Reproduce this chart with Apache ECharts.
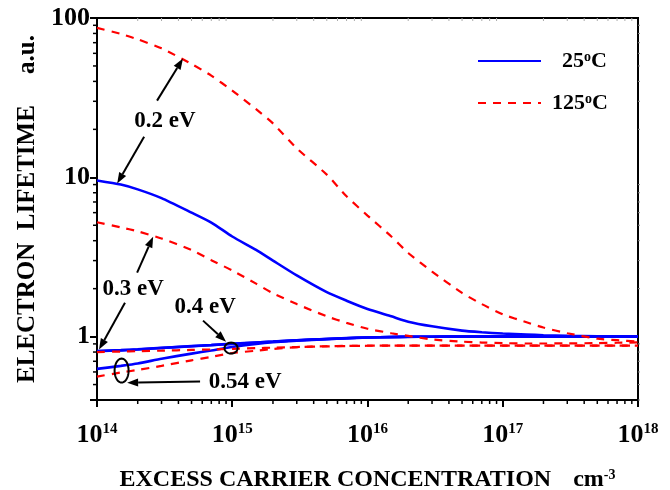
<!DOCTYPE html>
<html>
<head>
<meta charset="utf-8">
<script src="https://cdn.jsdelivr.net/npm/echarts@6/dist/echarts.min.js"></script>
<style>html,body{margin:0;padding:0;background:#fff;}#c{width:670px;height:490px;}</style>
</head>
<body>
<div id="c"></div>
<script>
// ---- data ----
const conc = [1e14, 1.5e14, 2e14, 3e14, 5e14, 7e14, 1e15, 1.5e15, 2e15, 3e15, 5e15, 7e15,
  1e16, 1.5e16, 2e16, 3e16, 5e16, 7e16, 1e17, 1.5e17, 2e17, 3e17, 5e17, 7e17, 1e18];

// 25 C (solid blue)
const blue02  = [9.55, 9.0, 8.4, 7.4, 6.0, 5.2, 4.25, 3.5, 3.0, 2.42, 1.9, 1.68, 1.49, 1.34, 1.24, 1.16, 1.09, 1.065, 1.045, 1.03, 1.02, 1.01, 1.005, 1.0, 1.0];
const blue03  = [0.81, 0.82, 0.83, 0.848, 0.87, 0.884, 0.9, 0.918, 0.93, 0.948, 0.966, 0.977, 0.988, 0.994, 0.997, 0.999, 1.0, 1.0, 1.0, 1.0, 1.0, 1.0, 1.0, 1.0, 1.0];
const blue04  = [0.813, 0.823, 0.833, 0.85, 0.872, 0.886, 0.902, 0.919, 0.931, 0.949, 0.967, 0.978, 0.988, 0.994, 0.997, 0.999, 1.0, 1.0, 1.0, 1.0, 1.0, 1.0, 1.0, 1.0, 1.0];
const blue054 = [0.627, 0.655, 0.678, 0.726, 0.782, 0.819, 0.861, 0.9, 0.922, 0.944, 0.964, 0.976, 0.987, 0.993, 0.996, 0.998, 1.0, 1.0, 1.0, 1.0, 1.0, 1.0, 1.0, 1.0, 1.0];

// 125 C (dashed red)
const red02  = [86.7, 79.5, 73.5, 64.5, 51.5, 43.5, 35, 26.8, 21.8, 15.2, 10.4, 7.6, 5.75, 4.25, 3.35, 2.56, 1.88, 1.6, 1.38, 1.23, 1.14, 1.05, 0.97, 0.95, 0.93];
const red03  = [5.22, 4.85, 4.58, 4.13, 3.5, 3.02, 2.6, 2.15, 1.87, 1.6, 1.34, 1.22, 1.12, 1.05, 1.01, 0.96, 0.93, 0.918, 0.91, 0.905, 0.905, 0.907, 0.91, 0.915, 0.92];
const red04  = [0.80, 0.806, 0.81, 0.816, 0.825, 0.83, 0.837, 0.846, 0.852, 0.86, 0.868, 0.873, 0.877, 0.878, 0.878, 0.878, 0.878, 0.878, 0.878, 0.878, 0.878, 0.878, 0.878, 0.878, 0.878];
const red054 = [0.561, 0.595, 0.618, 0.655, 0.71, 0.746, 0.789, 0.815, 0.836, 0.858, 0.87, 0.874, 0.876, 0.877, 0.878, 0.878, 0.878, 0.878, 0.878, 0.878, 0.878, 0.878, 0.878, 0.878, 0.878];

const xMin = 1e14, xMax = 1e18, yMin = 0.4, yMax = 100;
const legendNames = ['25°C', '125°C'];

// annotations in data coordinates
const annoLabels = [[3.18e14, 22.7, '0.2 eV'], [1.85e14, 2.0, '0.3 eV'], [6.3e14, 1.54, '0.4 eV'], [1.245e15, 0.522, '0.54 eV']];
const annoArrows = [
  [2.78e14, 30.3, 4.32e14, 55.6],
  [2.23e14, 18.0, 1.41e14, 9.13],
  [1.98e14, 2.52, 2.6e14, 4.24],
  [1.61e14, 1.63, 1.035e14, 0.829],
  [6.08e14, 1.26, 9.0e14, 0.93],
  [5.78e14, 0.522, 1.67e14, 0.514]
];
const annoRings = [[9.8e14, 0.847], [1.52e14, 0.612]];
const ringSize = [[6.5, 5.5], [7, 12]];

// ---- minor tick values ----
const minorX = [], minorY = [];
for (let e = 14; e < 18; e++) for (let m = 2; m <= 9; m++) minorX.push(m * Math.pow(10, e));
for (let e = -1; e < 2; e++) for (let m = 1; m <= 9; m++) {
  const v = m * Math.pow(10, e);
  if (m > 1 && v >= yMin - 1e-9 && v < yMax) minorY.push(+v.toPrecision(3));
}

const FF = 'Liberation Serif';
const chart = echarts.init(document.getElementById('c'), null, {renderer: 'canvas'});

function mk(name, vals, isRed) {
  return {
    name: name, type: 'line', symbol: 'none', showSymbol: false, smooth: 0.2,
    data: conc.map((c, i) => [c, vals[i]]),
    lineStyle: isRed ? {color: '#ff0000', width: 2.2, type: [8, 7]} : {color: '#0000ff', width: 2.6},
    itemStyle: {color: isRed ? '#ff0000' : '#0000ff'},
    z: isRed ? 3 : 2, silent: true
  };
}

const series = [
  mk(legendNames[0], blue02, false), mk(legendNames[0], blue03, false),
  mk(legendNames[0], blue04, false), mk(legendNames[0], blue054, false),
  mk(legendNames[1], red02, true), mk(legendNames[1], red03, true),
  mk(legendNames[1], red04, true), mk(legendNames[1], red054, true),
  {
    type: 'custom', name: 'minorX', silent: true, clip: false, z: 5,
    data: minorX.map(v => [v, yMin]),
    renderItem: (p, api) => {
      const b = api.coord([api.value(0), yMin]);
      const t = api.coord([api.value(0), yMax]);
      return {type: 'group', children: [
        {type: 'line', shape: {x1: b[0], y1: b[1], x2: b[0], y2: b[1] + 4}, style: {stroke: '#000', lineWidth: 1.5}},
        {type: 'line', shape: {x1: t[0], y1: t[1], x2: t[0], y2: t[1] + 3}, style: {stroke: '#aaa', lineWidth: 1}}
      ]};
    }
  },
  {
    type: 'custom', name: 'minorY', silent: true, clip: false, z: 5,
    data: minorY.map(v => [xMin, v]),
    renderItem: (p, api) => {
      const l = api.coord([xMin, api.value(1)]);
      const r = api.coord([xMax, api.value(1)]);
      return {type: 'group', children: [
        {type: 'line', shape: {x1: l[0], y1: l[1], x2: l[0] - 4, y2: l[1]}, style: {stroke: '#000', lineWidth: 1.5}},
        {type: 'line', shape: {x1: r[0], y1: r[1], x2: r[0] + 2, y2: r[1]}, style: {stroke: '#888', lineWidth: 1}}
      ]};
    }
  },
  {
    type: 'custom', name: 'arrows', silent: true, clip: false, z: 10,
    data: annoArrows,
    renderItem: (p, api) => {
      const p1 = api.coord([api.value(0), api.value(1)]);
      const p2 = api.coord([api.value(2), api.value(3)]);
      const a = Math.atan2(p2[1] - p1[1], p2[0] - p1[0]);
      const L = 11, W = 4;
      const base = [p2[0] - L * Math.cos(a), p2[1] - L * Math.sin(a)];
      const lft = [base[0] + W * Math.sin(a), base[1] - W * Math.cos(a)];
      const rgt = [base[0] - W * Math.sin(a), base[1] + W * Math.cos(a)];
      return {type: 'group', children: [
        {type: 'line', shape: {x1: p1[0], y1: p1[1], x2: base[0], y2: base[1]}, style: {stroke: '#000', lineWidth: 2}},
        {type: 'polygon', shape: {points: [p2, lft, rgt]}, style: {fill: '#000'}}
      ]};
    }
  },
  {
    type: 'custom', name: 'rings', silent: true, clip: false, z: 10,
    data: annoRings,
    renderItem: (p, api) => {
      const c = api.coord([api.value(0), api.value(1)]);
      const s = ringSize[p.dataIndex];
      const pts = [];
      for (let k = 0; k < 48; k++) {
        const t = k / 48 * Math.PI * 2;
        pts.push([c[0] + s[0] * Math.cos(t), c[1] + s[1] * Math.sin(t)]);
      }
      return {type: 'polygon', shape: {points: pts}, style: {fill: 'none', stroke: '#000', lineWidth: 2}};
    }
  },
  {
    type: 'custom', name: 'labels', silent: true, clip: false, z: 10,
    data: annoLabels.map(d => [d[0], d[1]]),
    renderItem: (p, api) => {
      const c = api.coord([api.value(0), api.value(1)]);
      return {type: 'text', x: c[0], y: c[1], style: {
        text: annoLabels[p.dataIndex][2], fill: '#000', fontFamily: FF, fontWeight: 'bold', fontSize: 23,
        align: 'center', verticalAlign: 'middle'}};
    }
  }
];

const option = {
  animation: false,
  backgroundColor: '#fff',
  grid: {left: 97, right: 32, top: 18, bottom: 90, show: true, borderColor: '#000', borderWidth: 2,
    backgroundColor: 'transparent', containLabel: false, outerBoundsMode: 'none'},
  legend: {
    data: legendNames, orient: 'vertical', left: 472, top: 45, itemWidth: 63, itemHeight: 14, itemGap: 20,
    selectedMode: false,
    itemStyle: {opacity: 0},
    formatter: n => n === legendNames[0] ? '{p|}25{s|o}C' : '125{s|o}C',
    textStyle: {
      fontFamily: FF, fontWeight: 'bold', fontSize: 22, color: '#000', padding: [0, 0, 0, 6],
      rich: {
        s: {fontFamily: FF, fontWeight: 'bold', fontSize: 14, verticalAlign: 'top', color: '#000'},
        p: {width: 10}
      }
    }
  },
  xAxis: {
    type: 'log', logBase: 10, min: xMin, max: xMax,
    name: '{t|EXCESS CARRIER CONCENTRATION}{g|}{t|cm}{s|-3}', nameLocation: 'middle', nameGap: 68,
    nameTextStyle: {
      color: '#000',
      rich: {
        t: {fontFamily: FF, fontWeight: 'bold', fontSize: 24, color: '#000'},
        s: {fontFamily: FF, fontWeight: 'bold', fontSize: 14, color: '#000', verticalAlign: 'top'},
        g: {width: 22}
      }
    },
    axisLine: {show: true, lineStyle: {color: '#000', width: 2}},
    axisTick: {show: true, inside: false, length: 7, lineStyle: {color: '#000', width: 2}},
    splitLine: {show: false}, minorTick: {show: false},
    axisLabel: {
      margin: 22, color: '#000',
      formatter: v => '{b|10}{s|' + Math.round(Math.log10(v)) + '}',
      rich: {
        b: {fontFamily: FF, fontWeight: 'bold', fontSize: 26, color: '#000'},
        s: {fontFamily: FF, fontWeight: 'bold', fontSize: 15, color: '#000', verticalAlign: 'top'}
      }
    }
  },
  yAxis: {
    type: 'log', logBase: 10, min: yMin, max: yMax,
    name: 'ELECTRON  LIFETIME     a.u.', nameLocation: 'middle', nameRotate: 90, nameGap: 57,
    nameTextStyle: {fontFamily: FF, fontWeight: 'bold', fontSize: 25, color: '#000'},
    axisLine: {show: true, lineStyle: {color: '#000', width: 2}},
    axisTick: {show: true, inside: false, length: 7, lineStyle: {color: '#000', width: 2}},
    splitLine: {show: false}, minorTick: {show: false},
    axisLabel: {
      margin: 7, color: '#000', fontFamily: FF, fontWeight: 'bold', fontSize: 26,
      formatter: v => {
        const l = Math.log10(v);
        return Math.abs(l - Math.round(l)) < 1e-6 ? String(Math.round(v)) : '';
      }
    }
  },
  series: series
};
chart.setOption(option);
</script>
</body>
</html>
